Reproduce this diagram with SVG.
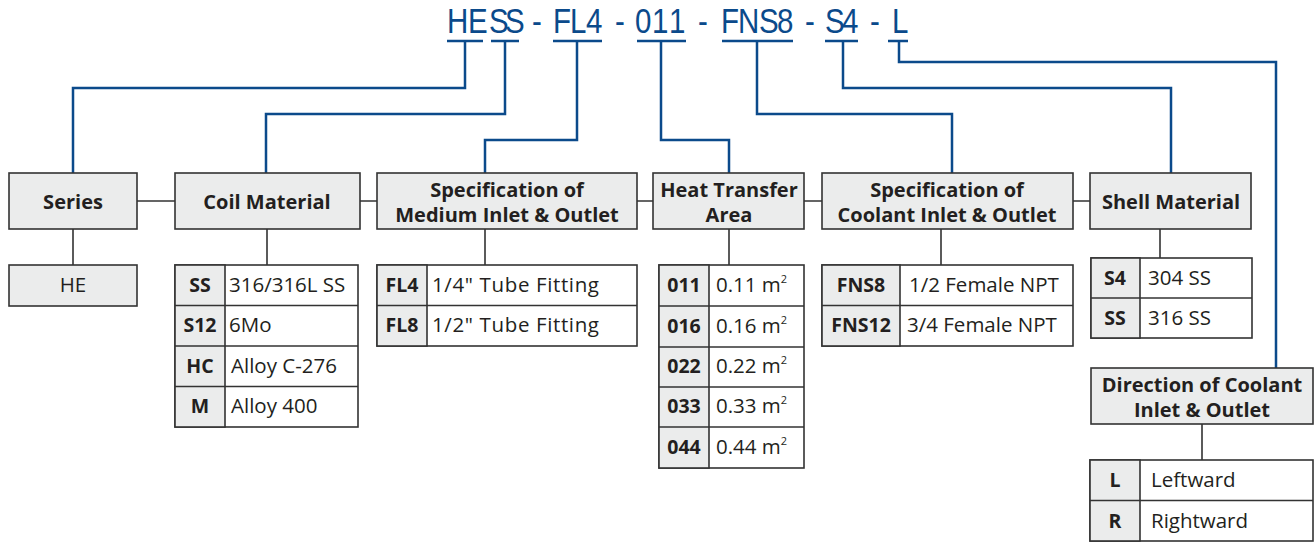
<svg xmlns="http://www.w3.org/2000/svg" width="1316" height="542" viewBox="0 0 1316 542">
<style>
text{font-family:"Open Sans","Liberation Sans",sans-serif;fill:#231f20}
.title{font-family:"Liberation Sans","Open Sans",sans-serif;font-size:36px;fill:#0b4a8b}
.hd{font-size:20px;font-weight:bold;text-anchor:middle}
.k{font-size:19.5px;font-weight:bold;text-anchor:middle}
.v{font-size:20.5px}
.sup{font-size:11px}
.hbox{fill:#ebecec;stroke:#333;stroke-width:1.6}
.cell{fill:#fff;stroke:#333;stroke-width:1.6}
.kcell{fill:#ebecec;stroke:#333;stroke-width:1.6}
.blue{fill:none;stroke:#0b4a8b;stroke-width:2.5}
.gray{fill:none;stroke:#333;stroke-width:1.6}
</style>
<g id="title">
<text class="title" transform="scale(0.82,1)" y="33" x="545.1 570.7 596.3 615.9 634.1 648.8 664.6 674.4 695.1 714.6 731.7 750 762.2 774.4 795.1 815.9 835.4 851.2 865.9 879.3 900 925.6 947.6 969.5 981.7 993.9 1006.1 1026.8 1046.3 1061 1073.2 1087.8">HESS - FL4 - 011 - FNS8 - S4 - L</text>
</g>
<g id="connectors">
<path class="blue" d="M447 41H483M491 41H519M553 41H602M637 41H686M722 41H793M825 41H858M888 41H908"/>
<path class="blue" d="M465 41V88H73V173"/>
<path class="blue" d="M505 41V114H266V173"/>
<path class="blue" d="M577 41V140H485V173"/>
<path class="blue" d="M661 41V140H729V173"/>
<path class="blue" d="M757 41V114H952V173"/>
<path class="blue" d="M843 41V88H1171V173"/>
<path class="blue" d="M899 41V62H1276V368"/>
<path class="gray" d="M137 201H175M360 201H377M637 201H653M804 201H822M1073 201H1090"/>
<path class="gray" d="M73 229V265M267 229V265M485 229V265M729 229V265M941 229V265M1160 229V258M1202 424V460"/>
</g>
<g id="series">
<rect class="hbox" x="9" y="173" width="128" height="56"/>
<text class="hd" x="73" y="209">Series</text>
<rect class="hbox" x="9" y="265" width="128" height="41"/>
<text class="v" x="73" y="292" text-anchor="middle">HE</text>
</g>
<g id="coil">
<rect class="hbox" x="175" y="173" width="185" height="56"/>
<text class="hd" x="267" y="209">Coil Material</text>
<rect class="cell" x="175" y="265" width="183" height="162"/>
<rect class="kcell" x="175" y="265" width="50" height="162"/>
<path class="gray" d="M175 305.5H358M175 346H358M175 386.5H358"/>
<text class="k" x="200" y="292">SS</text><text class="v" x="229" y="292">316/316L SS</text>
<text class="k" x="200" y="332">S12</text><text class="v" x="229" y="332">6Mo</text>
<text class="k" x="200" y="373">HC</text><text class="v" x="231" y="373">Alloy C-276</text>
<text class="k" x="200" y="413">M</text><text class="v" x="231" y="413">Alloy 400</text>
</g>
<g id="medium">
<rect class="hbox" x="377" y="173" width="260" height="56"/>
<text class="hd" x="507" y="197">Specification of</text>
<text class="hd" x="507" y="222">Medium Inlet &amp; Outlet</text>
<rect class="cell" x="377" y="265" width="260" height="81"/>
<rect class="kcell" x="377" y="265" width="50" height="81"/>
<path class="gray" d="M377 305.5H637"/>
<text class="k" x="402" y="292">FL4</text><text class="v" x="432" y="292" textLength="167" lengthAdjust="spacing">1/4" Tube Fitting</text>
<text class="k" x="402" y="332">FL8</text><text class="v" x="432" y="332" textLength="167" lengthAdjust="spacing">1/2" Tube Fitting</text>
</g>
<g id="heat">
<rect class="hbox" x="653" y="173" width="151" height="56"/>
<text class="hd" x="729" y="197">Heat Transfer</text>
<text class="hd" x="729" y="222">Area</text>
<rect class="cell" x="659" y="265" width="145" height="203"/>
<rect class="kcell" x="659" y="265" width="50" height="203"/>
<path class="gray" d="M659 306H804M659 347H804M659 387H804M659 427H804"/>
<text class="k" x="684" y="292">011</text><text class="v" x="716" y="292">0.11 m<tspan class="sup" dy="-9">2</tspan></text>
<text class="k" x="684" y="333">016</text><text class="v" x="716" y="333">0.16 m<tspan class="sup" dy="-9">2</tspan></text>
<text class="k" x="684" y="373">022</text><text class="v" x="716" y="373">0.22 m<tspan class="sup" dy="-9">2</tspan></text>
<text class="k" x="684" y="413">033</text><text class="v" x="716" y="413">0.33 m<tspan class="sup" dy="-9">2</tspan></text>
<text class="k" x="684" y="454">044</text><text class="v" x="716" y="454">0.44 m<tspan class="sup" dy="-9">2</tspan></text>
</g>
<g id="coolant">
<rect class="hbox" x="822" y="173" width="251" height="56"/>
<text class="hd" x="947" y="197">Specification of</text>
<text class="hd" x="947" y="222">Coolant Inlet &amp; Outlet</text>
<rect class="cell" x="822" y="265" width="251" height="81"/>
<rect class="kcell" x="822" y="265" width="78" height="81"/>
<path class="gray" d="M822 305.5H1073"/>
<text class="k" x="861" y="292">FNS8</text><text class="v" x="909" y="292">1/2 Female NPT</text>
<text class="k" x="861" y="332">FNS12</text><text class="v" x="907" y="332">3/4 Female NPT</text>
</g>
<g id="shell">
<rect class="hbox" x="1090" y="173" width="161" height="56"/>
<text class="hd" x="1171" y="209">Shell Material</text>
<rect class="cell" x="1091" y="258" width="161" height="80"/>
<rect class="kcell" x="1091" y="258" width="49" height="80"/>
<path class="gray" d="M1091 298H1252"/>
<text class="k" x="1115" y="285">S4</text><text class="v" x="1148" y="285">304 SS</text>
<text class="k" x="1115" y="325">SS</text><text class="v" x="1148" y="325">316 SS</text>
</g>
<g id="direction">
<rect class="hbox" x="1091" y="368" width="222" height="56"/>
<text class="hd" x="1202" y="392">Direction of Coolant</text>
<text class="hd" x="1202" y="417">Inlet &amp; Outlet</text>
<rect class="cell" x="1090" y="460" width="223" height="81"/>
<rect class="kcell" x="1090" y="460" width="50" height="81"/>
<path class="gray" d="M1090 500.5H1313"/>
<text class="k" x="1115" y="487">L</text><text class="v" x="1151" y="487">Leftward</text>
<text class="k" x="1115" y="528">R</text><text class="v" x="1151" y="528">Rightward</text>
</g>
</svg>
